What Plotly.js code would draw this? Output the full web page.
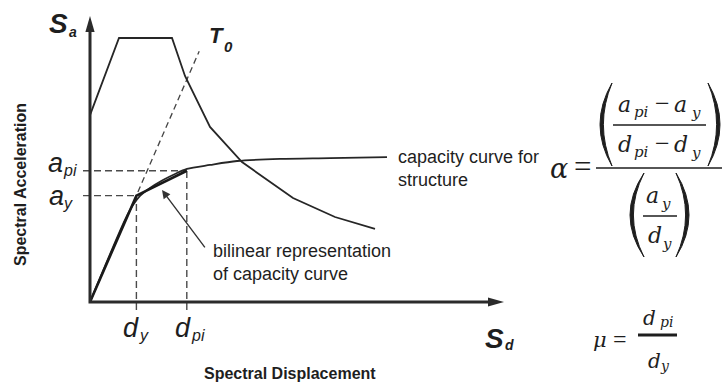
<!DOCTYPE html>
<html>
<head>
<meta charset="utf-8">
<script src="https://cdn.plot.ly/plotly-3.0.1.min.js"></script>
<style>html,body{margin:0;padding:0;background:#fff;}</style>
</head>
<body>
<div id="chart" style="width:723px;height:383px;"></div>
<script>
// Capacity spectrum method sketch (ADRS format):
// demand spectrum, structural capacity curve and its bilinear idealisation.

// ---- data (spectral displacement Sd, spectral acceleration Sa in g) ----
const demandSd = [0, 0.725, 2.05, 2.375, 3.0, 3.8, 5.075, 6.125, 7.125];
const demandSa = [0.708, 1.0, 1.0, 0.856, 0.663, 0.530, 0.394, 0.322, 0.277];

const capacitySd = [0, 0.875, 1.075, 1.25, 1.5, 1.825, 2.125, 2.425, 3.0, 3.675, 4.75, 6.0, 7.425];
const capacitySa = [0, 0.311, 0.367, 0.402, 0.432, 0.462, 0.485, 0.504, 0.519, 0.534, 0.542, 0.545, 0.549];

const dY = 1.16, aY = 0.403;     // yield point (dy, ay)
const dPi = 2.42, aPi = 0.497;   // trial performance point (dpi, api)
const bilinearSd = [0, dY, dPi];
const bilinearSa = [0, aY, aPi];

const t0Sd = [0, 2.73];          // initial-period line T0
const t0Sa = [0, 0.95];

const sdAxisEnd = 10.35, saAxisEnd = 1.083;
const guideStartSd = -0.175, guideStartSa = -0.03;

// ---- frame geometry ----
const W = 723, H = 383;
const ORIGIN_PX = 90, ORIGIN_PY = 302;
const PX_PER_SD = 40, PX_PER_SA = 264;
const toPx = sd => ORIGIN_PX + PX_PER_SD * sd;
const toPy = sa => ORIGIN_PY - PX_PER_SA * sa;
const PX = px => px / W;
const PY = py => 1 - py / H;

const SANS = 'Liberation Sans, Arial, sans-serif';
const SERIF = 'Liberation Serif, Times New Roman, serif';
const MATH = 'DejaVu Serif, Liberation Serif, serif';
const INK = '#1e1e1e';

// ---- traces ----
const guides = {
  x: [guideStartSd, dPi, null, guideStartSd, dY, null, dY, dY, null, dPi, dPi],
  y: [aPi, aPi, null, aY, aY, null, guideStartSa, aY, null, guideStartSa, aPi],
  mode: 'lines', line: {color: '#4a4a4a', width: 1.4, dash: '7px,4px'}, hoverinfo: 'skip'
};
const t0 = {x: t0Sd, y: t0Sa, mode: 'lines',
  line: {color: '#444', width: 1.3, dash: '6px,4px'}, hoverinfo: 'skip'};
const demand = {x: demandSd, y: demandSa, mode: 'lines',
  line: {color: '#262626', width: 1.8}, hoverinfo: 'skip'};
const capacity = {x: capacitySd, y: capacitySa, mode: 'lines',
  line: {color: '#262626', width: 1.8, shape: 'spline', smoothing: 0.8}, hoverinfo: 'skip'};
const bilinear = {x: bilinearSd, y: bilinearSa, mode: 'lines',
  line: {color: '#1a1a1a', width: 2.6}, hoverinfo: 'skip'};

// ---- helpers for shapes / text ----
function pathPx(pts, close) {
  return pts.map((p, i) => (i ? 'L' : 'M') + PX(p[0]) + ',' + PY(p[1])).join(' ') + (close ? ' Z' : '');
}
// tall bracket as a filled crescent; dir = +1 for "(", -1 for ")"
function bracket(xBulge, xEnds, yTop, yBot, dir) {
  const ym = (yTop + yBot) / 2;
  const cOut = 2 * xBulge - xEnds;
  const cIn = 2 * (xBulge + dir * 3.4) - xEnds;
  return {type: 'path', xref: 'paper', yref: 'paper',
    path: 'M' + PX(xEnds) + ',' + PY(yTop) +
          ' Q' + PX(cOut) + ',' + PY(ym) + ' ' + PX(xEnds) + ',' + PY(yBot) +
          ' Q' + PX(cIn) + ',' + PY(ym) + ' ' + PX(xEnds) + ',' + PY(yTop) + ' Z',
    fillcolor: INK, line: {color: INK, width: 1}};
}
function bar(x0, x1, y, w) {
  return {type: 'line', xref: 'paper', yref: 'paper', x0: PX(x0), x1: PX(x1), y0: PY(y), y1: PY(y),
    line: {color: INK, width: w}};
}
// text placed by horizontal centre and baseline (pixels)
function t(text, cx, baseline, size, opt) {
  opt = opt || {};
  const fam = opt.family || SANS;
  return {xref: 'paper', yref: 'paper', x: PX(cx), y: PY(baseline - 0.33 * size),
    xanchor: 'center', yanchor: 'middle', showarrow: false, text: text,
    align: 'left', borderpad: 0,
    font: {family: fam, size: size, color: INK,
      style: opt.upright ? 'normal' : 'italic',
      weight: opt.bold ? 'bold' : 'normal'}};
}
const m = (s, cx, b, size) => t(s, cx, b, size, {family: MATH});
const op = (s, cx, b, size) => t(s, cx, b, size, {family: SERIF, upright: true});

// ---- axes with arrowheads ----
const yTipX = toPx(0), yTipY = toPy(saAxisEnd);
const xTipX = toPx(sdAxisEnd), xTipY = toPy(0);
const shapes = [
  {type: 'path', xref: 'x', yref: 'y', layer: 'above',
   path: 'M0,' + (saAxisEnd - 8 / PX_PER_SA) + ' L0,0 L' + (sdAxisEnd - 8 / PX_PER_SD) + ',0',
   line: {color: '#2b2b2b', width: 3}},
  {type: 'path', xref: 'paper', yref: 'paper', layer: 'above',
   path: pathPx([[yTipX, yTipY], [yTipX - 4.6, yTipY + 16], [yTipX + 4.6, yTipY + 16]], true),
   fillcolor: '#2b2b2b', line: {width: 0}},
  {type: 'path', xref: 'paper', yref: 'paper', layer: 'above',
   path: pathPx([[xTipX, xTipY], [xTipX - 16, xTipY - 4.6], [xTipX - 16, xTipY + 4.6]], true),
   fillcolor: '#2b2b2b', line: {width: 0}},

  // alpha = ((api - ay)/(dpi - dy)) / (ay/dy)
  bar(596, 722, 168, 1.6),
  bracket(600, 612, 83, 166, 1),
  bracket(720, 708, 83, 166, -1),
  bar(613, 706, 125, 1.5),
  bracket(630, 644, 173, 257, 1),
  bracket(689, 676, 173, 257, -1),
  bar(643, 677, 216, 1.5),
  // mu = dpi / dy
  bar(638, 677, 335, 3.2)
];

const annotations = [
  // axis symbols
  t('S', 58, 33, 28, {bold: true}),
  t('a', 72.5, 37, 14, {bold: true}),
  t('S', 494.5, 348, 28, {bold: true}),
  t('d', 509, 350, 14, {bold: true}),
  t('T', 216, 43, 22, {bold: true}),
  t('0', 228, 51, 15, {bold: true}),

  // tick-style labels at the yield / performance points
  t('a', 55.5, toPy(aPi) + 1.5, 27),
  t('pi', 70, toPy(aPi) + 5, 16),
  t('a', 56.5, toPy(aY) + 9.6, 27),
  t('y', 68, toPy(aY) + 13.5, 16),
  t('d', toPx(dY) - 5, 336.5, 27),
  t('y', toPx(dY) + 7.5, 340.5, 16),
  t('d', toPx(dPi) - 4.3, 336.5, 27),
  t('pi', toPx(dPi) + 11, 340.5, 16),

  // axis titles
  t('Spectral Displacement', 290, 379, 16, {bold: true, upright: true}),
  {xref: 'paper', yref: 'paper', x: PX(20), y: PY(185), xanchor: 'center', yanchor: 'middle',
   showarrow: false, text: 'Spectral Acceleration', textangle: -90,
   font: {family: SANS, size: 16, weight: 'bold', color: INK}},

  // callouts
  {xref: 'paper', yref: 'paper', x: PX(396), y: PY(168.5), xanchor: 'left', yanchor: 'middle',
   showarrow: false, align: 'left', text: 'capacity curve for<br>structure',
   font: {family: SANS, size: 18, color: INK}},
  {xref: 'paper', yref: 'paper', x: PX(211), y: PY(262.5), xanchor: 'left', yanchor: 'middle',
   showarrow: false, align: 'left', text: 'bilinear representation<br>of capacity curve',
   font: {family: SANS, size: 18, color: INK}},
  {x: 1.8, y: 0.424, ax: 2.9, ay: 0.201, xref: 'x', yref: 'y', axref: 'x', ayref: 'y',
   text: '', showarrow: true, arrowhead: 2, arrowsize: 1.2, arrowwidth: 1.4, arrowcolor: '#333'},

  // alpha formula
  m('α', 559, 177, 27),
  op('=', 582, 177, 31),
  m('a', 624.5, 112, 22),
  m('pi', 641, 117, 15),
  op('−', 662.5, 112, 26),
  m('a', 680.5, 112, 22),
  m('y', 695.5, 118, 15),
  m('d', 624.5, 152, 22),
  m('pi', 641, 157, 15),
  op('−', 662.5, 152, 26),
  m('d', 680.5, 152, 22),
  m('y', 695.5, 158, 15),
  m('a', 652.5, 203, 22),
  m('y', 665.5, 209, 15),
  m('d', 654.5, 243, 22),
  m('y', 667, 249, 15),

  // mu formula
  m('μ', 600, 347, 21),
  op('=', 620, 347, 24),
  m('d', 649.5, 325, 20),
  m('pi', 666, 327, 14),
  m('d', 654.5, 368, 20),
  m('y', 665, 371, 14)
];

const layout = {
  width: W, height: H,
  margin: {l: 0, r: 0, t: 0, b: 0, pad: 0},
  paper_bgcolor: '#fff', plot_bgcolor: '#fff',
  showlegend: false,
  xaxis: {range: [-ORIGIN_PX / PX_PER_SD, (W - ORIGIN_PX) / PX_PER_SD], showgrid: false,
          zeroline: false, showticklabels: false, showline: false, ticks: '', fixedrange: true},
  yaxis: {range: [(ORIGIN_PY - H) / PX_PER_SA, ORIGIN_PY / PX_PER_SA], showgrid: false,
          zeroline: false, showticklabels: false, showline: false, ticks: '', fixedrange: true},
  shapes: shapes,
  annotations: annotations
};

Plotly.newPlot('chart', [guides, t0, demand, capacity, bilinear], layout,
  {staticPlot: true, displayModeBar: false});
</script>
</body>
</html>
